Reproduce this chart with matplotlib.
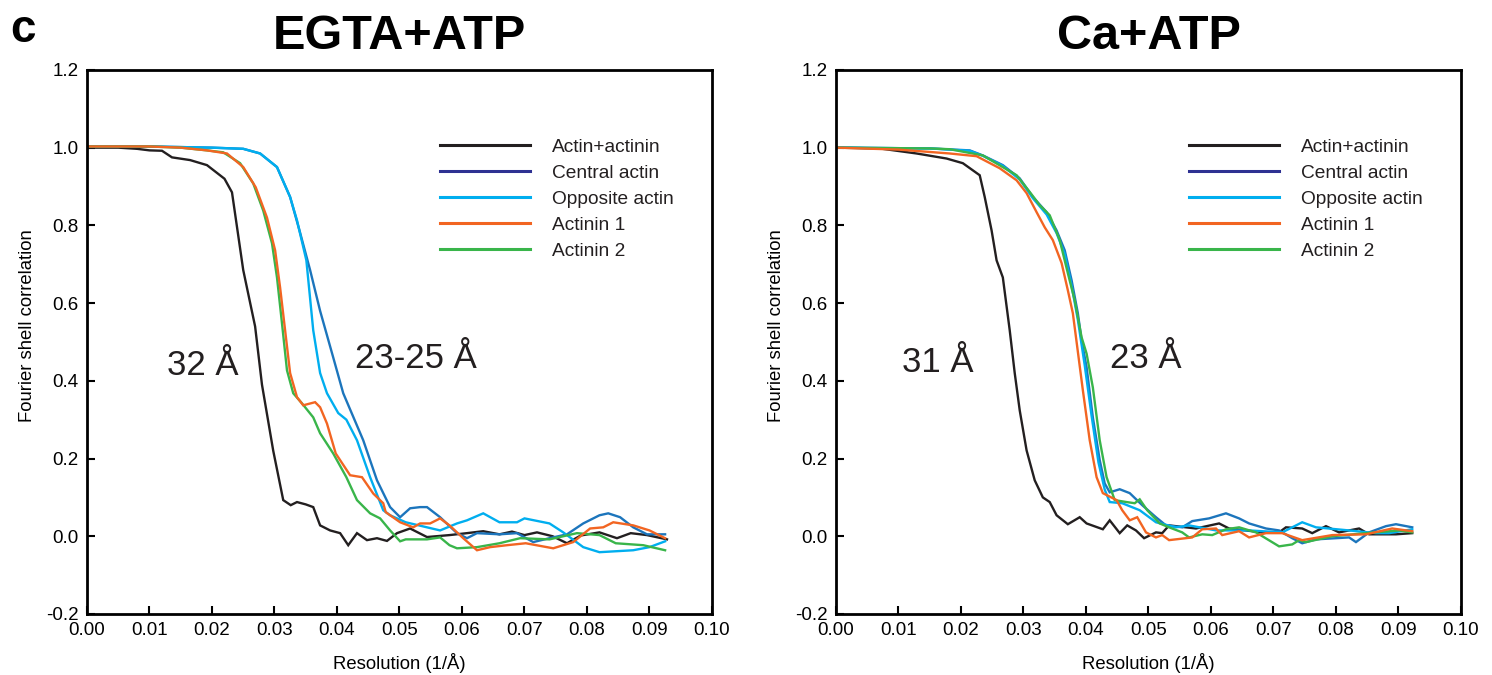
import matplotlib
matplotlib.use("Agg")
import matplotlib.pyplot as plt
from matplotlib.lines import Line2D

plt.rcParams["font.family"] = ["Liberation Sans", "DejaVu Sans"]

# ---------------------------------------------------------------- data
labels = ["Actin+actinin", "Central actin", "Opposite actin", "Actinin 1", "Actinin 2"]
line_colors = ["#231f20", "#1c75bc", "#00aeef", "#f26522", "#39b54a"]
legend_colors = ["#231f20", "#2e3192", "#00aeef", "#f26522", "#39b54a"]

# EGTA+ATP
egta_black_x = [0, 0.005, 0.008, 0.010, 0.012, 0.0136, 0.0165, 0.0192, 0.022, 0.0232, 0.025,
                0.0269, 0.028, 0.0298, 0.0314, 0.0326, 0.0336, 0.035, 0.0362, 0.0373, 0.0389,
                0.0405, 0.0418, 0.0432, 0.0448, 0.0464, 0.0480, 0.0496, 0.0517, 0.0544, 0.058,
                0.0608, 0.0634, 0.066, 0.068, 0.070, 0.072, 0.0745, 0.0768, 0.079, 0.082,
                0.0848, 0.087, 0.0896, 0.0928]
egta_black_y = [1.0, 1.0, 0.997, 0.993, 0.992, 0.975, 0.968, 0.955, 0.92, 0.885, 0.685,
                0.54, 0.39, 0.22, 0.093, 0.08, 0.088, 0.082, 0.075, 0.028, 0.015,
                0.008, -0.023, 0.008, -0.010, -0.005, -0.012, 0.008, 0.02, -0.002, 0.003,
                0.008, 0.013, 0.005, 0.012, 0.003, 0.010, 0.0, -0.018, 0.002, 0.010,
                -0.005, 0.008, 0.003, -0.008]

egta_central_x = [0, 0.010, 0.020, 0.025, 0.0277, 0.0304, 0.0325, 0.034, 0.0357, 0.0373, 0.0394,
                  0.041, 0.0442, 0.0464, 0.0485, 0.0501, 0.0517, 0.0533, 0.0544, 0.0565, 0.0592,
                  0.0608, 0.0624, 0.066, 0.0688, 0.0714, 0.074, 0.0768, 0.0794, 0.082, 0.0834,
                  0.0853, 0.0874, 0.0896, 0.0925]
egta_central_y = [1.003, 1.003, 1.0, 0.997, 0.985, 0.95, 0.873, 0.787, 0.685, 0.58, 0.46,
                  0.368, 0.247, 0.144, 0.075, 0.049, 0.072, 0.075, 0.075, 0.049, 0.008,
                  -0.005, 0.008, 0.005, 0.008, -0.015, -0.005, 0.005, 0.033, 0.054, 0.059,
                  0.049, 0.023, 0.005, 0.005]

egta_opposite_x = [0, 0.010, 0.020, 0.025, 0.0277, 0.0304, 0.0325, 0.0336, 0.0351, 0.0362, 0.0373,
                   0.0384, 0.0402, 0.0415, 0.0432, 0.0453, 0.0474, 0.0485, 0.051, 0.0544, 0.0565,
                   0.0592, 0.0608, 0.0634, 0.066, 0.0688, 0.070, 0.074, 0.0762, 0.0794, 0.082,
                   0.0874, 0.090, 0.0925]
egta_opposite_y = [1.003, 1.003, 1.0, 0.997, 0.985, 0.95, 0.873, 0.813, 0.71, 0.53, 0.42,
                   0.368, 0.317, 0.30, 0.247, 0.152, 0.067, 0.054, 0.036, 0.023, 0.015,
                   0.033, 0.041, 0.059, 0.036, 0.036, 0.046, 0.033, 0.010, -0.028, -0.041,
                   -0.036, -0.028, -0.013]

egta_actinin1_x = [0, 0.010, 0.015, 0.0192, 0.0224, 0.025, 0.027, 0.0288, 0.0301, 0.0309, 0.0317,
                   0.0325, 0.0336, 0.0346, 0.0365, 0.0373, 0.0384, 0.0398, 0.0421, 0.044, 0.0458,
                   0.0474, 0.0478, 0.0501, 0.0522, 0.0533, 0.0549, 0.0565, 0.058, 0.0602, 0.0624,
                   0.0645, 0.0672, 0.0702, 0.0746, 0.0778, 0.0805, 0.0826, 0.0842, 0.0874, 0.090,
                   0.0925]
egta_actinin1_y = [1.003, 1.003, 1.0, 0.993, 0.985, 0.95, 0.898, 0.82, 0.736, 0.64, 0.53,
                   0.42, 0.358, 0.337, 0.345, 0.332, 0.29, 0.213, 0.157, 0.152, 0.11,
                   0.085, 0.062, 0.036, 0.023, 0.033, 0.033, 0.046, 0.028, -0.005, -0.036,
                   -0.028, -0.023, -0.018, -0.031, -0.015, 0.020, 0.023, 0.036, 0.028, 0.015,
                   -0.005]

egta_actinin2_x = [0, 0.010, 0.015, 0.0192, 0.0218, 0.0245, 0.0266, 0.0282, 0.0296, 0.0304, 0.0312,
                   0.032, 0.033, 0.0344, 0.0362, 0.0373, 0.0394, 0.0415, 0.0432, 0.0453, 0.0469,
                   0.0485, 0.0501, 0.051, 0.0544, 0.0565, 0.058, 0.0592, 0.0624, 0.066, 0.0693,
                   0.074, 0.0784, 0.082, 0.0846, 0.089, 0.0925]
egta_actinin2_y = [1.003, 1.003, 1.0, 0.993, 0.988, 0.96, 0.908, 0.838, 0.754, 0.666, 0.548,
                   0.427, 0.368, 0.342, 0.306, 0.265, 0.213, 0.152, 0.093, 0.059, 0.046,
                   0.015, -0.013, -0.008, -0.008, -0.003, -0.023, -0.031, -0.028, -0.018, -0.005,
                   -0.008, 0.008, 0.003, -0.018, -0.023, -0.036]

# Ca+ATP
ca_black_x = [0, 0.007, 0.0129, 0.0177, 0.0203, 0.023, 0.0238, 0.0249, 0.0257, 0.0267, 0.0278,
              0.0286, 0.0294, 0.0305, 0.0318, 0.0331, 0.0342, 0.0353, 0.0371, 0.039, 0.0401,
              0.0427, 0.0438, 0.0454, 0.0466, 0.048, 0.0493, 0.0512, 0.0522, 0.0533, 0.0576,
              0.0613, 0.0629, 0.0682, 0.0709, 0.072, 0.0746, 0.0762, 0.0784, 0.0805, 0.0837,
              0.0853, 0.0896, 0.0922]
ca_black_y = [1.0, 0.998, 0.985, 0.972, 0.96, 0.929, 0.873, 0.787, 0.71, 0.666, 0.53,
              0.42, 0.324, 0.221, 0.144, 0.10, 0.088, 0.054, 0.031, 0.049, 0.033,
              0.018, 0.041, 0.008, 0.028, 0.015, -0.005, 0.010, 0.008, 0.028, 0.020,
              0.033, 0.020, 0.010, 0.010, 0.023, 0.020, 0.008, 0.026, 0.010, 0.020,
              0.005, 0.005, 0.008]

ca_central_x = [0, 0.015, 0.0214, 0.0235, 0.0267, 0.0294, 0.0315, 0.0337, 0.0353, 0.0366, 0.0377,
                0.0387, 0.0393, 0.0401, 0.0411, 0.0422, 0.043, 0.0438, 0.0454, 0.047, 0.049,
                0.0512, 0.0528, 0.0554, 0.057, 0.0597, 0.0624, 0.0645, 0.0661, 0.0688, 0.0709,
                0.073, 0.0746, 0.0768, 0.0821, 0.0832, 0.0853, 0.088, 0.0896, 0.0922]
ca_central_y = [1.0, 0.998, 0.993, 0.98, 0.955, 0.921, 0.873, 0.834, 0.787, 0.736, 0.659,
                0.574, 0.504, 0.435, 0.306, 0.196, 0.136, 0.113, 0.121, 0.111, 0.080,
                0.049, 0.028, 0.023, 0.039, 0.046, 0.059, 0.046, 0.033, 0.020, 0.015,
                -0.005, -0.018, -0.008, -0.003, -0.015, 0.010, 0.026, 0.031, 0.023]

ca_opposite_x = [0, 0.015, 0.0214, 0.0235, 0.0267, 0.0294, 0.0315, 0.0337, 0.0353, 0.0366, 0.0377,
                 0.0387, 0.0398, 0.0409, 0.042, 0.043, 0.0438, 0.0458, 0.0486, 0.0512, 0.0544,
                 0.0565, 0.0608, 0.0661, 0.0714, 0.0746, 0.0768, 0.0821, 0.0864, 0.0885, 0.0922]
ca_opposite_y = [1.0, 0.998, 0.992, 0.979, 0.953, 0.918, 0.87, 0.828, 0.78, 0.726, 0.645,
                 0.557, 0.44, 0.31, 0.19, 0.12, 0.088, 0.085, 0.067, 0.036, 0.023,
                 0.028, 0.015, 0.015, 0.010, 0.036, 0.023, 0.015, 0.008, 0.008, 0.018]

ca_actinin1_x = [0, 0.010, 0.0182, 0.0225, 0.0262, 0.0289, 0.0305, 0.0321, 0.0334, 0.0347, 0.0361,
                 0.0371, 0.0379, 0.0385, 0.0395, 0.0406, 0.0417, 0.0427, 0.0449, 0.0458, 0.047,
                 0.0482, 0.0496, 0.0512, 0.0522, 0.0533, 0.057, 0.0586, 0.0608, 0.0618, 0.0645,
                 0.0661, 0.0688, 0.0714, 0.0746, 0.0794, 0.0848, 0.089, 0.0922]
ca_actinin1_y = [1.0, 0.995, 0.985, 0.978, 0.947, 0.916, 0.883, 0.834, 0.795, 0.762, 0.703,
                 0.633, 0.574, 0.50, 0.376, 0.247, 0.152, 0.111, 0.093, 0.067, 0.041,
                 0.049, 0.010, -0.003, 0.003, -0.010, -0.003, 0.018, 0.020, 0.003, 0.013,
                 -0.003, 0.008, 0.008, -0.010, 0.003, 0.005, 0.020, 0.013]

ca_actinin2_x = [0, 0.015, 0.0182, 0.0235, 0.0289, 0.031, 0.0326, 0.0342, 0.0358, 0.0371, 0.0382,
                 0.0393, 0.0401, 0.0411, 0.0422, 0.0433, 0.0446, 0.0465, 0.0478, 0.0486, 0.0498,
                 0.0518, 0.0533, 0.0554, 0.0565, 0.0586, 0.0602, 0.0624, 0.0645, 0.0672, 0.0709,
                 0.073, 0.0741, 0.0752, 0.0794, 0.0848, 0.0901, 0.0922]
ca_actinin2_y = [1.0, 0.998, 0.996, 0.98, 0.929, 0.886, 0.852, 0.826, 0.762, 0.677, 0.607,
                 0.512, 0.47, 0.383, 0.247, 0.152, 0.093, 0.088, 0.085, 0.095, 0.067,
                 0.033, 0.023, 0.010, -0.003, 0.005, 0.003, 0.018, 0.023, 0.010, -0.026,
                 -0.021, -0.010, -0.015, 0.0, 0.008, 0.015, 0.010]

panels = [
    {
        "title": "EGTA+ATP",
        "series": [(egta_black_x, egta_black_y), (egta_central_x, egta_central_y),
                   (egta_opposite_x, egta_opposite_y), (egta_actinin1_x, egta_actinin1_y),
                   (egta_actinin2_x, egta_actinin2_y)],
        "notes": [("32 Å", 0.0186, 0.44), ("23-25 Å", 0.0526, 0.458)],
    },
    {
        "title": "Ca+ATP",
        "series": [(ca_black_x, ca_black_y), (ca_central_x, ca_central_y),
                   (ca_opposite_x, ca_opposite_y), (ca_actinin1_x, ca_actinin1_y),
                   (ca_actinin2_x, ca_actinin2_y)],
        "notes": [("31 Å", 0.0163, 0.448), ("23 Å", 0.0495, 0.458)],
    },
]

x_ticks = [0.00, 0.01, 0.02, 0.03, 0.04, 0.05, 0.06, 0.07, 0.08, 0.09, 0.10]
y_ticks = [-0.2, 0.0, 0.2, 0.4, 0.6, 0.8, 1.0, 1.2]

# ---------------------------------------------------------------- figure
fig = plt.figure(figsize=(14.92, 6.75), dpi=100)
axes_left = [0.0583, 0.5603]

for left, panel in zip(axes_left, panels):
    ax = fig.add_axes([left, 0.0904, 0.4189, 0.806])

    order = [0, 1, 2, 4, 3]
    for i in order:
        xs, ys = panel["series"][i]
        ax.plot(xs, ys, color=line_colors[i], lw=1.7, solid_joinstyle="miter")

    ax.set_xlim(0, 0.10)
    ax.set_ylim(-0.2, 1.2)
    ax.set_xticks(x_ticks)
    ax.set_xticklabels([f"{t:.2f}" for t in x_ticks])
    ax.set_yticks(y_ticks)
    ax.set_yticklabels([f"{t:.1f}" for t in y_ticks])
    ax.tick_params(direction="in", length=6, width=1.5, labelsize=13.5, pad=6)

    for s in ax.spines.values():
        s.set_linewidth(2)

    ax.set_xlabel("Resolution (1/Å)", fontsize=13.3, labelpad=10)
    ax.set_ylabel("Fourier shell correlation", fontsize=13.3)
    ax.yaxis.set_label_coords(-0.081, 0.53)
    ax.set_title(panel["title"], fontsize=35, fontweight="bold", pad=15)

    for txt, tx, ty in panel["notes"]:
        ax.text(tx, ty, txt, fontsize=25, ha="center", va="center", color="#231f20")

    handles = [Line2D([], [], color=c, lw=2.2) for c in legend_colors]
    ax.legend(handles, labels, loc="upper left", bbox_to_anchor=(0.565, 0.874),
              frameon=False, fontsize=13.8, handlelength=4.7, handletextpad=1.15,
              labelspacing=0.45, borderpad=0, borderaxespad=0, labelcolor="#231f20")

fig.text(0.007, 0.955, "c", fontsize=33, fontweight="bold", va="center", ha="left")

fig.savefig("out.png", dpi=100)
